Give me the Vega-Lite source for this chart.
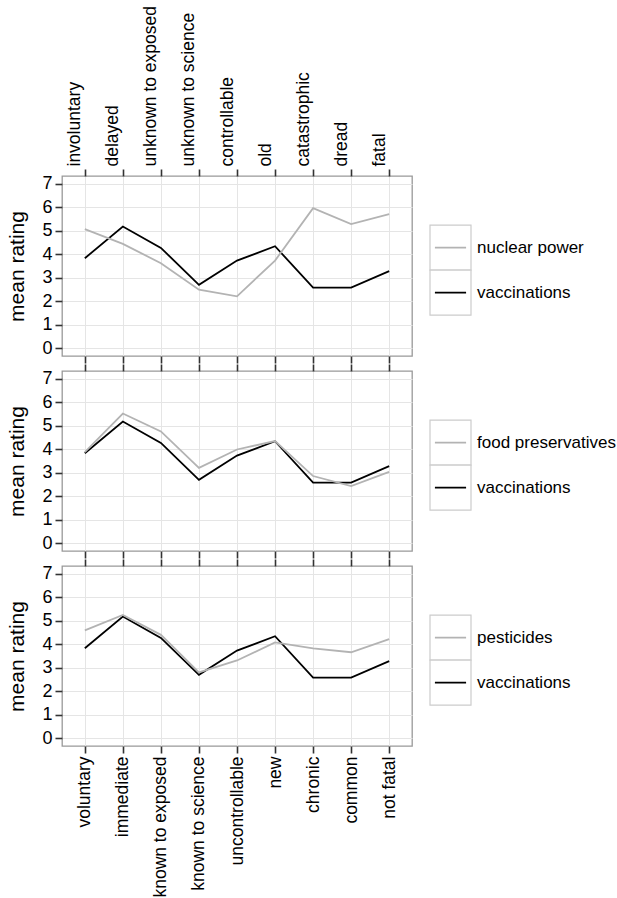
{
  "$schema": "https://vega.github.io/schema/vega-lite/v6.json",
  "padding": {"left": 6, "top": 4, "right": 5, "bottom": 0},
  "background": "white",
  "datasets": {
    "ratings": [
      {"hazard": "vaccinations", "scale": "voluntary", "rating": 3.83},
      {"hazard": "vaccinations", "scale": "immediate", "rating": 5.18},
      {"hazard": "vaccinations", "scale": "known to exposed", "rating": 4.27},
      {"hazard": "vaccinations", "scale": "known to science", "rating": 2.70},
      {"hazard": "vaccinations", "scale": "uncontrollable", "rating": 3.73},
      {"hazard": "vaccinations", "scale": "new", "rating": 4.34},
      {"hazard": "vaccinations", "scale": "chronic", "rating": 2.58},
      {"hazard": "vaccinations", "scale": "common", "rating": 2.58},
      {"hazard": "vaccinations", "scale": "not fatal", "rating": 3.28},
      {"hazard": "nuclear power", "scale": "voluntary", "rating": 5.07},
      {"hazard": "nuclear power", "scale": "immediate", "rating": 4.44},
      {"hazard": "nuclear power", "scale": "known to exposed", "rating": 3.62},
      {"hazard": "nuclear power", "scale": "known to science", "rating": 2.49},
      {"hazard": "nuclear power", "scale": "uncontrollable", "rating": 2.21},
      {"hazard": "nuclear power", "scale": "new", "rating": 3.73},
      {"hazard": "nuclear power", "scale": "chronic", "rating": 5.96},
      {"hazard": "nuclear power", "scale": "common", "rating": 5.28},
      {"hazard": "nuclear power", "scale": "not fatal", "rating": 5.71},
      {"hazard": "food preservatives", "scale": "voluntary", "rating": 3.88},
      {"hazard": "food preservatives", "scale": "immediate", "rating": 5.52},
      {"hazard": "food preservatives", "scale": "known to exposed", "rating": 4.76},
      {"hazard": "food preservatives", "scale": "known to science", "rating": 3.21},
      {"hazard": "food preservatives", "scale": "uncontrollable", "rating": 3.99},
      {"hazard": "food preservatives", "scale": "new", "rating": 4.35},
      {"hazard": "food preservatives", "scale": "chronic", "rating": 2.86},
      {"hazard": "food preservatives", "scale": "common", "rating": 2.43},
      {"hazard": "food preservatives", "scale": "not fatal", "rating": 3.04},
      {"hazard": "pesticides", "scale": "voluntary", "rating": 4.59},
      {"hazard": "pesticides", "scale": "immediate", "rating": 5.25},
      {"hazard": "pesticides", "scale": "known to exposed", "rating": 4.40},
      {"hazard": "pesticides", "scale": "known to science", "rating": 2.80},
      {"hazard": "pesticides", "scale": "uncontrollable", "rating": 3.31},
      {"hazard": "pesticides", "scale": "new", "rating": 4.08},
      {"hazard": "pesticides", "scale": "chronic", "rating": 3.82},
      {"hazard": "pesticides", "scale": "common", "rating": 3.66},
      {"hazard": "pesticides", "scale": "not fatal", "rating": 4.22}
    ]
  },
  "vconcat": [
    {
      "hconcat": [
        {
          "width": 350, "height": 180,
          "data": {"name": "ratings"},
          "transform": [{"filter": "datum.hazard == 'nuclear power' || datum.hazard == 'vaccinations'"}],
          "layer": [
            {
              "mark": {"type": "line", "strokeWidth": 1.8},
              "encoding": {
                "x": {"field": "scale", "type": "nominal", "sort": ["voluntary", "immediate", "known to exposed", "known to science", "uncontrollable", "new", "chronic", "common", "not fatal"], "scale": {"type": "point", "padding": 0.6}, "axis": {"orient": "bottom", "labels": false, "grid": true}},
                "y": {"field": "rating", "type": "quantitative", "scale": {"domain": [-0.33, 7.33], "nice": false, "zero": false}, "axis": {"values": [0, 1, 2, 3, 4, 5, 6, 7], "title": "mean rating"}},
                "color": {"field": "hazard", "type": "nominal", "scale": {"domain": ["nuclear power", "vaccinations"], "range": ["#b3b3b3", "#000000"]}, "legend": null},
                "order": {"value": null}
              }
            },
            {
              "mark": {"type": "point", "opacity": 0},
              "encoding": {
                "x": {"field": "scale", "type": "nominal", "sort": ["voluntary", "immediate", "known to exposed", "known to science", "uncontrollable", "new", "chronic", "common", "not fatal"], "scale": {"type": "point", "padding": 0.6}, "axis": {"orient": "top", "labels": true, "grid": false, "labelBaseline": "bottom", "labelOffset": -1, "labelExpr": "{'voluntary':'involuntary','immediate':'delayed','known to exposed':'unknown to exposed','known to science':'unknown to science','uncontrollable':'controllable','new':'old','chronic':'catastrophic','common':'dread','not fatal':'fatal'}[datum.value]"}}
              }
            }
          ],
          "resolve": {"axis": {"x": "independent"}}
        },
        {
          "width": 41, "height": 180,
          "view": {"stroke": null},
          "data": {"values": [{"hazard": "nuclear power"}, {"hazard": "vaccinations"}]},
          "encoding": {
            "y": {"field": "hazard", "type": "nominal", "scale": {"type": "band", "paddingInner": 0, "paddingOuter": 1.25, "align": 0.545}, "axis": null}
          },
          "layer": [
            {"mark": {"type": "rect", "fill": "white", "stroke": "#cccccc", "strokeWidth": 1.2},
             "encoding": {"x": {"datum": 0, "type": "quantitative", "scale": {"domain": [0, 1]}, "axis": null}, "x2": {"datum": 1}}},
            {"mark": {"type": "rule", "strokeWidth": 1.8},
             "encoding": {"x": {"datum": 0.12, "type": "quantitative", "scale": {"domain": [0, 1]}, "axis": null}, "x2": {"datum": 0.88},
               "color": {"field": "hazard", "type": "nominal", "scale": {"domain": ["nuclear power", "vaccinations"], "range": ["#b3b3b3", "#000000"]}, "legend": null}}},
            {"mark": {"type": "text", "align": "left", "baseline": "middle", "fontSize": 17, "dx": 6},
             "encoding": {"x": {"datum": 1, "type": "quantitative", "scale": {"domain": [0, 1]}, "axis": null}, "text": {"field": "hazard"}}}
          ]
        }
      ],
      "spacing": 16,
      "resolve": {"scale": {"x": "independent", "y": "independent", "color": "independent"}}
    },
    {
      "hconcat": [
        {
          "width": 350, "height": 180,
          "data": {"name": "ratings"},
          "transform": [{"filter": "datum.hazard == 'food preservatives' || datum.hazard == 'vaccinations'"}],
          "layer": [
            {
              "mark": {"type": "line", "strokeWidth": 1.8},
              "encoding": {
                "x": {"field": "scale", "type": "nominal", "sort": ["voluntary", "immediate", "known to exposed", "known to science", "uncontrollable", "new", "chronic", "common", "not fatal"], "scale": {"type": "point", "padding": 0.6}, "axis": {"orient": "bottom", "labels": false, "grid": true}},
                "y": {"field": "rating", "type": "quantitative", "scale": {"domain": [-0.33, 7.33], "nice": false, "zero": false}, "axis": {"values": [0, 1, 2, 3, 4, 5, 6, 7], "title": "mean rating"}},
                "color": {"field": "hazard", "type": "nominal", "scale": {"domain": ["food preservatives", "vaccinations"], "range": ["#b3b3b3", "#000000"]}, "legend": null},
                "order": {"value": null}
              }
            },
            {
              "mark": {"type": "point", "opacity": 0},
              "encoding": {
                "x": {"field": "scale", "type": "nominal", "sort": ["voluntary", "immediate", "known to exposed", "known to science", "uncontrollable", "new", "chronic", "common", "not fatal"], "scale": {"type": "point", "padding": 0.6}, "axis": {"orient": "top", "labels": false, "grid": false}}
              }
            }
          ],
          "resolve": {"axis": {"x": "independent"}}
        },
        {
          "width": 41, "height": 180,
          "view": {"stroke": null},
          "data": {"values": [{"hazard": "food preservatives"}, {"hazard": "vaccinations"}]},
          "encoding": {
            "y": {"field": "hazard", "type": "nominal", "scale": {"type": "band", "paddingInner": 0, "paddingOuter": 1.25, "align": 0.545}, "axis": null}
          },
          "layer": [
            {"mark": {"type": "rect", "fill": "white", "stroke": "#cccccc", "strokeWidth": 1.2},
             "encoding": {"x": {"datum": 0, "type": "quantitative", "scale": {"domain": [0, 1]}, "axis": null}, "x2": {"datum": 1}}},
            {"mark": {"type": "rule", "strokeWidth": 1.8},
             "encoding": {"x": {"datum": 0.12, "type": "quantitative", "scale": {"domain": [0, 1]}, "axis": null}, "x2": {"datum": 0.88},
               "color": {"field": "hazard", "type": "nominal", "scale": {"domain": ["food preservatives", "vaccinations"], "range": ["#b3b3b3", "#000000"]}, "legend": null}}},
            {"mark": {"type": "text", "align": "left", "baseline": "middle", "fontSize": 17, "dx": 6},
             "encoding": {"x": {"datum": 1, "type": "quantitative", "scale": {"domain": [0, 1]}, "axis": null}, "text": {"field": "hazard"}}}
          ]
        }
      ],
      "spacing": 16,
      "resolve": {"scale": {"x": "independent", "y": "independent", "color": "independent"}}
    },
    {
      "hconcat": [
        {
          "width": 350, "height": 180,
          "data": {"name": "ratings"},
          "transform": [{"filter": "datum.hazard == 'pesticides' || datum.hazard == 'vaccinations'"}],
          "layer": [
            {
              "mark": {"type": "line", "strokeWidth": 1.8},
              "encoding": {
                "x": {"field": "scale", "type": "nominal", "sort": ["voluntary", "immediate", "known to exposed", "known to science", "uncontrollable", "new", "chronic", "common", "not fatal"], "scale": {"type": "point", "padding": 0.6}, "axis": {"orient": "bottom", "labels": true, "grid": true}},
                "y": {"field": "rating", "type": "quantitative", "scale": {"domain": [-0.33, 7.33], "nice": false, "zero": false}, "axis": {"values": [0, 1, 2, 3, 4, 5, 6, 7], "title": "mean rating"}},
                "color": {"field": "hazard", "type": "nominal", "scale": {"domain": ["pesticides", "vaccinations"], "range": ["#b3b3b3", "#000000"]}, "legend": null},
                "order": {"value": null}
              }
            },
            {
              "mark": {"type": "point", "opacity": 0},
              "encoding": {
                "x": {"field": "scale", "type": "nominal", "sort": ["voluntary", "immediate", "known to exposed", "known to science", "uncontrollable", "new", "chronic", "common", "not fatal"], "scale": {"type": "point", "padding": 0.6}, "axis": {"orient": "top", "labels": false, "grid": false}}
              }
            }
          ],
          "resolve": {"axis": {"x": "independent"}}
        },
        {
          "width": 41, "height": 180,
          "view": {"stroke": null},
          "data": {"values": [{"hazard": "pesticides"}, {"hazard": "vaccinations"}]},
          "encoding": {
            "y": {"field": "hazard", "type": "nominal", "scale": {"type": "band", "paddingInner": 0, "paddingOuter": 1.25, "align": 0.545}, "axis": null}
          },
          "layer": [
            {"mark": {"type": "rect", "fill": "white", "stroke": "#cccccc", "strokeWidth": 1.2},
             "encoding": {"x": {"datum": 0, "type": "quantitative", "scale": {"domain": [0, 1]}, "axis": null}, "x2": {"datum": 1}}},
            {"mark": {"type": "rule", "strokeWidth": 1.8},
             "encoding": {"x": {"datum": 0.12, "type": "quantitative", "scale": {"domain": [0, 1]}, "axis": null}, "x2": {"datum": 0.88},
               "color": {"field": "hazard", "type": "nominal", "scale": {"domain": ["pesticides", "vaccinations"], "range": ["#b3b3b3", "#000000"]}, "legend": null}}},
            {"mark": {"type": "text", "align": "left", "baseline": "middle", "fontSize": 17, "dx": 6},
             "encoding": {"x": {"datum": 1, "type": "quantitative", "scale": {"domain": [0, 1]}, "axis": null}, "text": {"field": "hazard"}}}
          ]
        }
      ],
      "spacing": 16,
      "resolve": {"scale": {"x": "independent", "y": "independent", "color": "independent"}}
    }
  ],
  "spacing": -3,
  "resolve": {"scale": {"x": "independent", "y": "independent", "color": "independent"}},
  "config": {
    "font": "Liberation Sans",
    "view": {"stroke": "#999999", "strokeWidth": 1.3},
    "axis": {"domain": false, "tickColor": "#333333", "tickWidth": 1.6, "tickSize": 7, "gridColor": "#e5e5e5", "gridWidth": 1, "labelFontSize": 18, "labelColor": "#000000", "labelPadding": 3, "titleFontSize": 21, "titleFontWeight": "normal", "titleColor": "#000000", "titlePadding": 14, "labelOverlap": false},
    "axisX": {"labelAngle": -90, "title": null, "labelFontSize": 17.5},
    "text": {"color": "#000000"}
  }
}
